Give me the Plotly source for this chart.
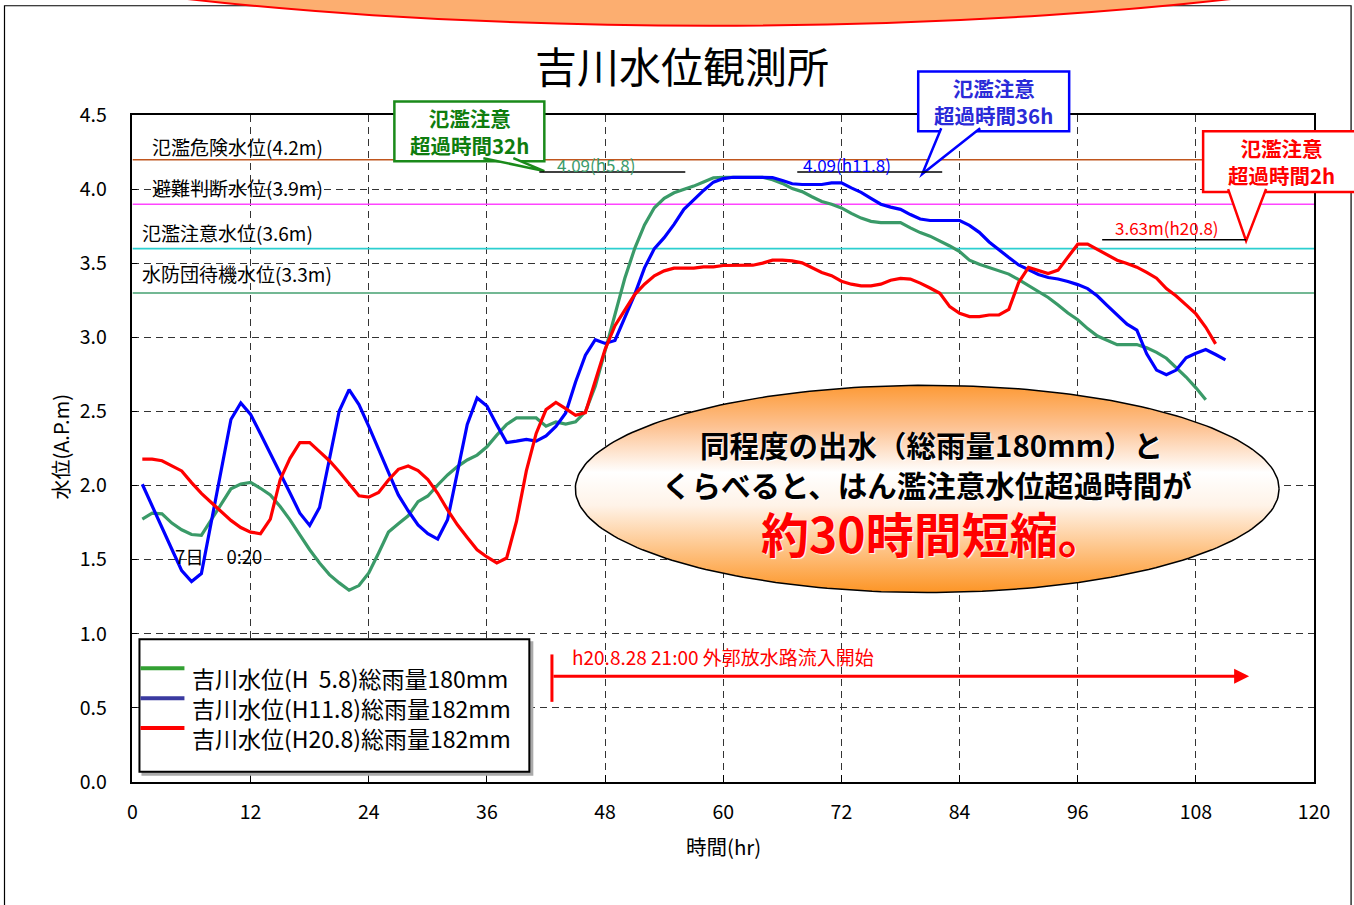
import numpy as np
import plotly.graph_objects as go

W, H = 1354, 905
FONT = "Noto Sans CJK JP"

# ---------------- data ----------------
hours_h5 = list(range(1, 110))
level_h5 = [
    1.774, 1.814, 1.809, 1.747, 1.702, 1.670, 1.664, 1.769, 1.881, 1.978,
    2.011, 2.022, 1.982, 1.937, 1.859, 1.769, 1.668, 1.567, 1.478, 1.399,
    1.343, 1.294, 1.325, 1.410, 1.545, 1.686, 1.742, 1.796, 1.892, 1.930,
    2.004, 2.072, 2.128, 2.173, 2.206, 2.262, 2.341, 2.413, 2.457, 2.457,
    2.457, 2.401, 2.430, 2.415, 2.430, 2.500, 2.670, 2.910, 3.160, 3.400,
    3.600, 3.760, 3.876, 3.939, 3.977, 3.998, 4.022, 4.050, 4.078, 4.082,
    4.082, 4.082, 4.082, 4.082, 4.065, 4.040, 4.005, 3.985, 3.950, 3.918,
    3.899, 3.875, 3.838, 3.806, 3.784, 3.775, 3.775, 3.775, 3.740, 3.708,
    3.684, 3.652, 3.618, 3.580, 3.522, 3.495, 3.473, 3.450, 3.428, 3.390,
    3.350, 3.310, 3.270, 3.220, 3.165, 3.120, 3.060, 3.010, 2.980, 2.952,
    2.952, 2.952, 2.930, 2.900, 2.860, 2.800, 2.733, 2.660, 2.580,
]

hours_h11 = list(range(1, 112))
level_h11 = [
    2.009, 1.860, 1.720, 1.570, 1.426, 1.352, 1.406, 1.750, 2.100, 2.446,
    2.558, 2.480, 2.350, 2.220, 2.080, 1.950, 1.814, 1.731, 1.852, 2.180,
    2.504, 2.648, 2.547, 2.400, 2.240, 2.090, 1.937, 1.830, 1.735, 1.675,
    1.639, 1.769, 2.090, 2.413, 2.592, 2.538, 2.410, 2.291, 2.300, 2.312,
    2.300, 2.336, 2.400, 2.490, 2.700, 2.880, 2.985, 2.960, 2.980, 3.140,
    3.290, 3.470, 3.600, 3.674, 3.764, 3.865, 3.932, 3.993, 4.049, 4.073,
    4.082, 4.082, 4.082, 4.082, 4.080, 4.060, 4.038, 4.033, 4.033, 4.033,
    4.044, 4.044, 4.010, 3.980, 3.940, 3.900, 3.880, 3.865, 3.830, 3.800,
    3.790, 3.790, 3.790, 3.790, 3.757, 3.710, 3.645, 3.590, 3.540, 3.490,
    3.455, 3.425, 3.405, 3.395, 3.378, 3.357, 3.330, 3.280, 3.215, 3.150,
    3.090, 3.050, 2.890, 2.780, 2.748, 2.780, 2.863, 2.894, 2.919, 2.885,
    2.849,
]

hours_h20 = list(range(1, 111))
level_h20 = [
    2.179, 2.179, 2.168, 2.132, 2.099, 2.020, 1.948, 1.886, 1.825, 1.765,
    1.717, 1.686, 1.675, 1.774, 2.040, 2.184, 2.290, 2.290, 2.229, 2.168,
    2.094, 2.016, 1.931, 1.922, 1.953, 2.038, 2.110, 2.132, 2.101, 2.040,
    1.948, 1.836, 1.735, 1.650, 1.567, 1.518, 1.478, 1.511, 1.758, 2.099,
    2.352, 2.513, 2.561, 2.520, 2.475, 2.493, 2.700, 2.920, 3.080, 3.190,
    3.290, 3.360, 3.417, 3.450, 3.468, 3.468, 3.468, 3.477, 3.477, 3.486,
    3.486, 3.487, 3.488, 3.502, 3.522, 3.522, 3.517, 3.504, 3.473, 3.439,
    3.417, 3.380, 3.360, 3.349, 3.349, 3.360, 3.387, 3.399, 3.394, 3.367,
    3.334, 3.298, 3.208, 3.163, 3.141, 3.141, 3.152, 3.152, 3.190, 3.372,
    3.473, 3.450, 3.432, 3.455, 3.540, 3.630, 3.630, 3.596, 3.556, 3.522,
    3.500, 3.475, 3.440, 3.400, 3.330, 3.280, 3.220, 3.159, 3.069, 2.957,
]

series_names = [
    "吉川水位(H\u00a0\u00a05.8)総雨量180mm",
    "吉川水位(H11.8)総雨量182mm",
    "吉川水位(H20.8)総雨量182mm",
]
line_colors = ["#3a9a68", "#0000ff", "#ff0000"]
legend_colors = ["#33a033", "#3a3aa0", "#ff0000"]

threshold_levels = [4.2, 3.9, 3.6, 3.3]
threshold_names = ["氾濫危険水位(4.2m)", "避難判断水位(3.9m)", "氾濫注意水位(3.6m)", "水防団待機水位(3.3m)"]
threshold_colors = ["#c0561e", "#ff44ff", "#2ccfd0", "#44a070"]

x_ticks = [0, 12, 24, 36, 48, 60, 72, 84, 96, 108, 120]
y_ticks = [0.0, 0.5, 1.0, 1.5, 2.0, 2.5, 3.0, 3.5, 4.0, 4.5]
y_tick_text = ["0.0", "0.5", "1.0", "1.5", "2.0", "2.5", "3.0", "3.5", "4.0", "4.5"]

event_start_hour = 42.6
event_end_hour = 113.4
event_level = 0.713
event_text = "h20.8.28 21:00 外郭放水路流入開始"

callout_texts = ["氾濫注意<br>超過時間32h", "氾濫注意<br>超過時間36h", "氾濫注意<br>超過時間2h"]
peak_texts = ["4.09(h5.8)", "4.09(h11.8)", "3.63m(h20.8)"]

# ---------------- layout helpers (picture pixel -> paper) ----------------
# the photographed page appears slightly scaled/offset; positions are given in
# picture pixels and converted here.
AX, BX = 0.9848, 5.5
AY, BY = 0.9716, 14.3


def px(x):
    return (x - BX) / (AX * W)


def py(y):
    return 1 - (y - BY) / (AY * H)


PLOT_L, PLOT_R, PLOT_T, PLOT_B = 133, 1315, 114, 783

fig = go.Figure()

# threshold lines (drawn first so the series sit on top)
for lv, col in zip(threshold_levels, threshold_colors):
    fig.add_trace(go.Scatter(x=[0, 120], y=[lv, lv], mode="lines",
                             line=dict(color=col, width=1.6),
                             hoverinfo="skip", showlegend=False))

# data series
for hrs, lv, col, name in zip([hours_h5, hours_h11, hours_h20],
                              [level_h5, level_h11, level_h20],
                              line_colors, series_names):
    fig.add_trace(go.Scatter(x=hrs, y=lv, mode="lines", name=name,
                             line=dict(color=col, width=3.2),
                             hoverinfo="skip", showlegend=False))

# message ellipse on a full-page overlay axis (picture pixel units)
t = np.linspace(0, 2 * np.pi, 241)
ec_x, ec_y, erx, ery = 928, 489, 352, 104
fig.add_trace(go.Scatter(
    x=ec_x + erx * np.cos(t), y=ec_y + ery * np.sin(t),
    xaxis="x2", yaxis="y2", mode="lines", line=dict(color="black", width=1.5),
    fill="toself",
    fillgradient=dict(type="vertical",
                      colorscale=[[0, "#fd9526"], [0.42, "#fff3e8"], [0.58, "#ffffff"],
                                  [0.8, "#fdc292"], [1, "#fd9a36"]]),
    hoverinfo="skip", showlegend=False))

shapes = []
# outer frame
shapes.append(dict(type="rect", xref="paper", yref="paper", x0=px(5), x1=px(1352), y0=py(912), y1=py(4),
                   line=dict(color="black", width=1.2), layer="below"))
# top arc (orange balloon coming from above the page)
arc_cx, arc_cy, arc_rx, arc_ry = 710, -126, 915, 150
shapes.append(dict(type="circle", xref="paper", yref="paper",
                   x0=px(arc_cx - arc_rx), x1=px(arc_cx + arc_rx),
                   y0=py(arc_cy + arc_ry), y1=py(arc_cy - arc_ry),
                   line=dict(color="#ff0000", width=2), fillcolor="#fcae70", layer="above"))

# callout boxes
callouts = [
    # box (x0,y0,x1,y1), pointer base a, b, base y, tip, line color, text color
    ((395, 100, 545, 160), 484, 514, 160, (545, 170), "#1a8a1a", "#0e7d0e"),
    ((919, 70, 1070, 130), 942, 981, 130, (923, 173), "#0000ff", "#2a2ad8"),
    ((1204, 130, 1360, 191), 1229, 1267, 191, (1247, 240), "#ff0000", "#ff0000"),
]
annotations = []
for (box, a, b, by, tip, lc, tc), txt in zip(callouts, callout_texts):
    x0, y0, x1, y1 = box
    shapes.append(dict(type="rect", xref="paper", yref="paper", x0=px(x0), x1=px(x1), y0=py(y1), y1=py(y0),
                       line=dict(color=lc, width=2.5), fillcolor="white", layer="above"))
    shapes.append(dict(type="path", xref="paper", yref="paper",
                       path=f"M {px(a)},{py(by - 3)} L {px(tip[0])},{py(tip[1])} L {px(b)},{py(by - 3)}",
                       line=dict(color=lc, width=2.5), fillcolor="white", layer="above"))
    annotations.append(dict(text=f"<b>{txt}</b>", x=px((x0 + x1) / 2), y=py((y0 + y1) / 2),
                            xref="paper", yref="paper", showarrow=False,
                            font=dict(size=20.5, color=tc, family=FONT),
                            xanchor="center", yanchor="middle"))

# peak value labels with underline
peaks = [
    ((540, 686, 171), (597, 163), "#3c9a6a"),
    ((798, 943, 171), (848, 163), "#0000ff"),
    ((1103, 1247, 239), (1168, 227), "#ff0000"),
]
for ((lx0, lx1, ly), (tx, ty), col), txt in zip(peaks, peak_texts):
    shapes.append(dict(type="line", xref="paper", yref="paper", x0=px(lx0), x1=px(lx1), y0=py(ly), y1=py(ly),
                       line=dict(color="black", width=1.5), layer="above"))
    annotations.append(dict(text=txt, x=px(tx), y=py(ty), xref="paper", yref="paper", showarrow=False,
                            font=dict(size=17, color=col, family=FONT), xanchor="center", yanchor="middle"))

# threshold labels
label_pos = [(151, 145), (151, 186), (141, 232), (141, 273)]
for (lx, ly), txt in zip(label_pos, threshold_names):
    annotations.append(dict(text=txt, x=px(lx), y=py(ly), xref="paper", yref="paper", showarrow=False,
                            font=dict(size=19, color="black", family=FONT), xanchor="left", yanchor="middle"))

# title
annotations.append(dict(text="吉川水位観測所", x=px(683), y=py(63), xref="paper", yref="paper", showarrow=False,
                        font=dict(size=42, color="black", family=FONT), xanchor="center", yanchor="middle"))
# axis titles
annotations.append(dict(text="時間(hr)", x=px(724), y=py(847), xref="paper", yref="paper", showarrow=False,
                        font=dict(size=20.5, color="black", family=FONT), xanchor="center", yanchor="middle"))
annotations.append(dict(text="水位(A.P.m)", x=px(61), y=py(447), xref="paper", yref="paper", showarrow=False,
                        textangle=-90, font=dict(size=20, color="black", family=FONT),
                        xanchor="center", yanchor="middle"))
# start time note
annotations.append(dict(text="7日\u3000 0:20", x=px(174), y=py(556), xref="paper", yref="paper", showarrow=False,
                        font=dict(size=18.5, color="black", family=FONT), xanchor="left", yanchor="middle"))

# event arrow
shapes.append(dict(type="line", xref="x", yref="y", x0=event_start_hour, x1=event_start_hour,
                   y0=0.54, y1=0.86, line=dict(color="#ff0000", width=3), layer="above"))
annotations.append(dict(x=event_end_hour, y=event_level, ax=event_start_hour, ay=event_level,
                        xref="x", yref="y", axref="x", ayref="y", text="", showarrow=True,
                        arrowhead=2, arrowsize=1, arrowwidth=3, arrowcolor="#ff0000",
                        standoff=0, startstandoff=0))
annotations.append(dict(text=event_text, x=px(571), y=py(657), xref="paper", yref="paper", showarrow=False,
                        font=dict(size=19, color="#ff0000", family=FONT), xanchor="left", yanchor="middle"))

# message in the ellipse
shadow = "1px 1px 1px #ffffff"
annotations.append(dict(text="<b>同程度の出水（総雨量180mm）と</b>", x=px(932), y=py(444), xref="paper", yref="paper",
                        showarrow=False, font=dict(size=29.5, color="black", family=FONT, shadow=shadow),
                        xanchor="center", yanchor="middle"))
annotations.append(dict(text="<b>くらべると、はん濫注意水位超過時間が</b>", x=px(928), y=py(484), xref="paper",
                        yref="paper", showarrow=False,
                        font=dict(size=29.5, color="black", family=FONT, shadow=shadow),
                        xanchor="center", yanchor="middle"))
annotations.append(dict(text="<b>約30時間短縮。</b>", x=px(934), y=py(532), xref="paper", yref="paper",
                        showarrow=False, font=dict(size=48, color="#ff0000", family=FONT, shadow=shadow),
                        xanchor="center", yanchor="middle"))

# custom legend
shapes.append(dict(type="rect", xref="paper", yref="paper", x0=px(143), x1=px(533), y0=py(776), y1=py(643),
                   line=dict(color="#aaaaaa", width=2), fillcolor="#aaaaaa", layer="above"))
shapes.append(dict(type="rect", xref="paper", yref="paper", x0=px(140), x1=px(530), y0=py(773), y1=py(640),
                   line=dict(color="black", width=2), fillcolor="white", layer="above"))
legend_line_y = [669, 699, 729]
for ly, col in zip(legend_line_y, legend_colors):
    shapes.append(dict(type="line", xref="paper", yref="paper", x0=px(141), x1=px(185), y0=py(ly), y1=py(ly),
                       line=dict(color=col, width=4), layer="above"))
annotations.append(dict(text="<br>".join(series_names), x=px(191), y=py(709), xref="paper", yref="paper",
                        showarrow=False, align="left",
                        font=dict(size=23, color="black", family=FONT), xanchor="left", yanchor="middle"))

fig.update_layout(
    width=W, height=H,
    margin=dict(l=0, r=0, t=0, b=0),
    paper_bgcolor="white", plot_bgcolor="rgba(0,0,0,0)",
    font=dict(family=FONT, color="black"),
    showlegend=False,
    xaxis=dict(domain=[px(PLOT_L), px(PLOT_R)], range=[0, 120], tickvals=x_ticks,
               showgrid=True, gridcolor="#333333", gridwidth=1, griddash="7px,5px",
               showline=True, linecolor="black", linewidth=1.5, mirror=True,
               ticks="inside", ticklen=7, tickcolor="black", zeroline=False,
               tickfont=dict(size=19.5, family=FONT), ticklabelstandoff=12, fixedrange=True),
    yaxis=dict(domain=[py(PLOT_B), py(PLOT_T)], range=[0, 4.5], tickvals=y_ticks, ticktext=y_tick_text,
               showgrid=True, gridcolor="#333333", gridwidth=1, griddash="7px,5px",
               showline=True, linecolor="black", linewidth=1.5, mirror=True,
               ticks="inside", ticklen=5, tickcolor="black", zeroline=False,
               tickfont=dict(size=19.5, family=FONT), ticklabelstandoff=20, fixedrange=True),
    xaxis2=dict(domain=[0, 1], range=[BX, BX + AX * W], visible=False, anchor="y2", fixedrange=True),
    yaxis2=dict(domain=[0, 1], range=[BY + AY * H, BY], visible=False, anchor="x2", fixedrange=True),
    shapes=shapes,
    annotations=annotations,
)

fig.write_html("out.html",
               config={"displayModeBar": False},
               post_script="document.body.style.margin='0px';document.body.style.overflow='hidden';")
